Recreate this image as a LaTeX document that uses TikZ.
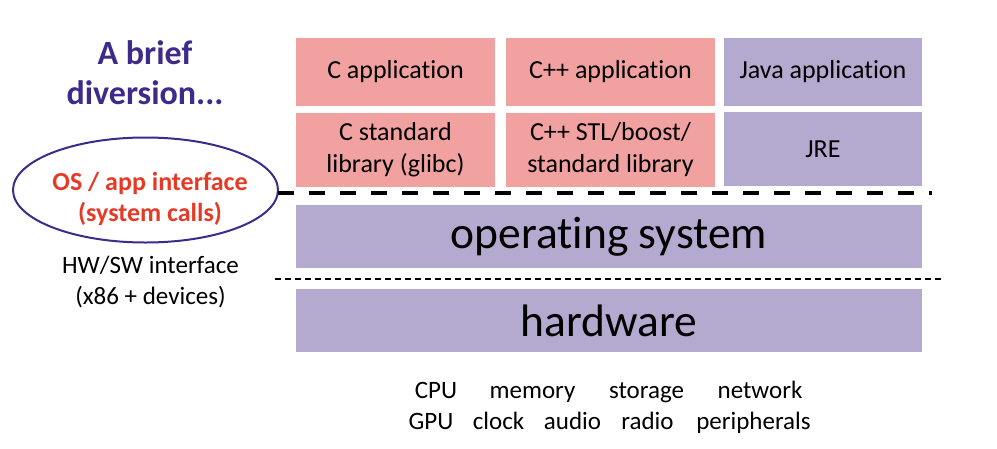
\documentclass[tikz,border=0pt]{standalone}
\usepackage{fontspec}
\setmainfont{Carlito}[Ligatures=NoCommon]
\usetikzlibrary{shapes.geometric}
\definecolor{LayerPink}{HTML}{F2A1A1}
\definecolor{LayerPurple}{HTML}{B4A9CE}
\definecolor{TitlePurple}{HTML}{3D2A8A}
\definecolor{CallRed}{HTML}{E53A26}
\tikzset{
  layer/.style={inner sep=0pt, align=center, font=\fontsize{26}{32}\selectfont},
  pinklayer/.style={layer, fill=LayerPink},
  purplelayer/.style={layer, fill=LayerPurple},
  biglayer/.style={purplelayer, minimum width=626pt, minimum height=63pt,
    font=\fontsize{45.5}{54}\selectfont},
  partword/.style={anchor=base, inner sep=0pt, font=\fontsize{25}{30}\selectfont},
}
\begin{document}
\begin{tikzpicture}[x=1pt,y=-1pt]
  \useasboundingbox (0,0) rectangle (997,448);
  % application layers
  \node[pinklayer, minimum width=199pt, minimum height=68pt] (capp) at (395.5,72) {C application};
  \node[pinklayer, minimum width=209pt, minimum height=68pt] (cppapp) at (610.5,72) {C++ application};
  \node[purplelayer, minimum width=198pt, minimum height=68pt] (javaapp) at (823,72) {Java application};
  \node[pinklayer, minimum width=199pt, minimum height=74pt] (clib) at (395.5,150) {C standard\\library (glibc)};
  \node[pinklayer, minimum width=209pt, minimum height=74pt] (cpplib) at (610.5,150) {C++ STL/boost/\\standard library};
  \node[purplelayer, minimum width=198pt, minimum height=74pt] (jre) at (823,149) {JRE};
  % os and hardware
  \node[biglayer] (os) at (609,236.5) {operating system};
  \node[biglayer] (hw) at (609,320.5) {hardware};
  % left side
  \node[align=center, text=TitlePurple, font=\fontsize{34}{40}\selectfont\bfseries] (title) at (145,73) {A brief\\diversion...};
  \node[draw=TitlePurple, line width=2pt, ellipse, minimum width=265pt, minimum height=105pt] (iface) at (145.5,190) {};
  \node[align=center, text=CallRed, font=\fontsize{26}{31}\selectfont\bfseries] (ifacetext) at (150,198.5) {OS / app interface\\(system calls)};
  \node[align=center, font=\fontsize{25}{31}\selectfont] (hwsw) at (150.5,282) {HW/SW interface\\(x86 + devices)};
  % interface lines
  \coordinate (apistart) at (278,193);
  \coordinate (apiend) at (932,193);
  \coordinate (isastart) at (275,279);
  \coordinate (isaend) at (942,279);
  \draw[line width=4pt, dash pattern=on 15.5pt off 15.5pt] (apistart) -- (apiend);
  \draw[line width=1.2pt, dash pattern=on 5.5pt off 4.5pt] (isastart) -- (isaend);
  % hardware parts
  \foreach \name/\x/\word in {cpu/436/CPU, mem/532.5/memory, stor/646.5/storage, net/760/network}
    \node[partword] (\name) at (\x,398) {\word};
  \foreach \name/\x/\word in {gpu/431/GPU, clk/498.5/clock, aud/572.5/audio, rad/647.5/radio, per/753.5/peripherals}
    \node[partword] (\name) at (\x,429) {\word};
\end{tikzpicture}
\end{document}
